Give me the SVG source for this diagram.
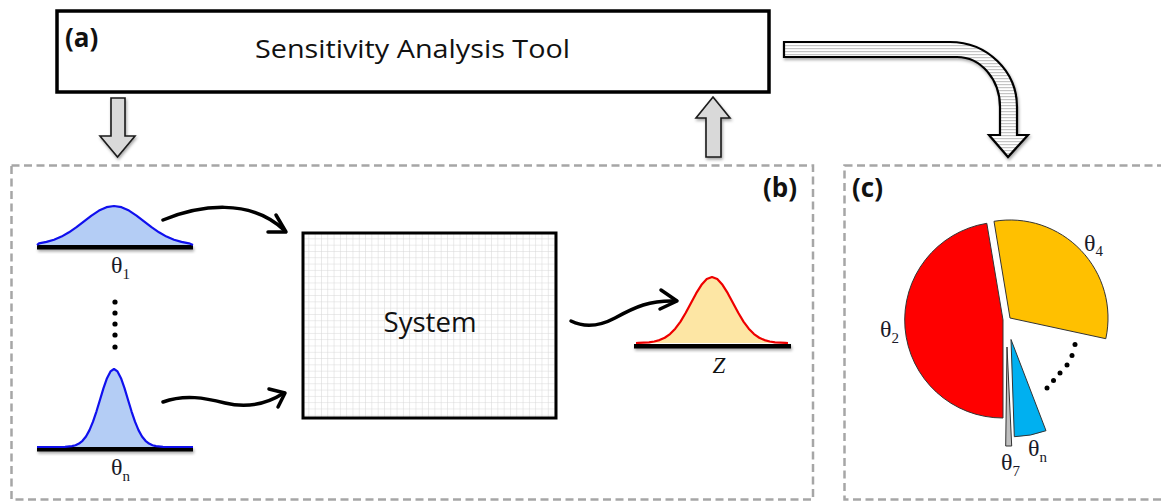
<svg xmlns="http://www.w3.org/2000/svg" width="1161" height="502" viewBox="0 0 1161 502">
<style>
.sans{font-family:"Open Sans","Liberation Sans",sans-serif;fill:#111}
.lbl{font-family:"Open Sans","Liberation Sans",sans-serif;font-weight:700;font-size:26px;fill:#111}
.th{font-family:"Liberation Serif","DejaVu Serif",serif;font-size:24px;fill:#1a1a2a}
.sub{font-size:15px}
.panel{fill:none;stroke:#a6a6a6;stroke-width:2.5;stroke-dasharray:8 4.5}
.block{fill:#d9d9d9;stroke:#1a1a1a;stroke-width:1.6;stroke-linejoin:miter}
.base{fill:#000}
.flow{fill:none;stroke:#000;stroke-width:3.5;stroke-linecap:round;stroke-linejoin:round}
.gb{fill:#b4cdf5;stroke:#1010ee;stroke-width:2.2;stroke-linejoin:round}
.gr{fill:#fde6a4;stroke:#ee0000;stroke-width:2.2;stroke-linejoin:round}
.slice{stroke:#333;stroke-width:1}
</style>
<defs>
<filter id="sh" x="-20%" y="-50%" width="150%" height="250%">
<feDropShadow dx="1" dy="2" stdDeviation="1.5" flood-color="#000" flood-opacity="0.35"/>
</filter>
<pattern id="grid" width="6.3" height="6.3" patternUnits="userSpaceOnUse" x="303" y="233">
<rect width="6.3" height="6.3" fill="#fff"/>
<path d="M6.3,0V6.3M0,6.3H6.3" stroke="#d6d6d6" stroke-width="1" fill="none"/>
</pattern>
<pattern id="stripes" width="4" height="3" patternUnits="userSpaceOnUse">
<rect width="4" height="3" fill="#fff"/>
<rect y="0" width="4" height="1.2" fill="#c4c4c4"/>
</pattern>
</defs>

<g id="panel-b"><rect class="panel" x="11.5" y="165.5" width="801.5" height="334"/>
<text class="lbl" x="763" y="197">(b)</text></g>
<g id="panel-c"><rect class="panel" x="844.5" y="165.5" width="360" height="334"/>
<text class="lbl" x="852" y="197">(c)</text></g>

<g id="sa-tool">
<rect x="57" y="11" width="712" height="81" fill="#fff" stroke="#000" stroke-width="3.5"/>
<text class="lbl" x="65" y="47">(a)</text>
<text class="sans" x="412.5" y="58" font-size="26" text-anchor="middle" textLength="315" lengthAdjust="spacingAndGlyphs">Sensitivity Analysis Tool</text>
</g>

<g id="input-1">
<rect class="base" x="37" y="245" width="156" height="4.5" filter="url(#sh)"/>
<path class="gb" d="M37,245 L39,243.3 46.5,241.9 54,239.7 61.5,236.6 69,232.3 76.5,227.2 84,221.4 91.5,215.6 99,210.6 106.5,207.2 114,206 121.5,207.2 129,210.6 136.5,215.6 144,221.4 151.5,227.2 159,232.3 166.5,236.6 174,239.7 181.5,241.9 189,243.3 193,245"/>
<text class="th" x="111" y="273">θ<tspan class="sub" dy="6">1</tspan></text>
</g>

<g id="ellipsis-inputs" fill="#000">
<circle cx="115" cy="302" r="2.6"/><circle cx="115" cy="313" r="2.6"/><circle cx="115" cy="324" r="2.6"/><circle cx="115" cy="335" r="2.6"/><circle cx="115" cy="347" r="2.6"/>
</g>

<g id="input-n">
<rect class="base" x="37" y="447" width="156" height="4.5" filter="url(#sh)"/>
<path class="gb" d="M37,447 L65,446.8 72,446.1 75.5,445.2 79,443.6 82.5,440.8 86,436.45 89.5,430.1 93,421.7 96.5,411.3 100,399.7 103.5,388.1 107,378.2 110.5,371.4 114,369 117.5,371.4 121,378.2 124.5,388.1 128,399.7 131.5,411.3 135,421.7 138.5,430.1 142,436.45 145.5,440.8 149,443.6 152.5,445.2 156,446.1 163,446.8 193,447"/>
<text class="th" x="111" y="475">θ<tspan class="sub" dy="6">n</tspan></text>
</g>

<g id="system">
<rect x="303" y="233" width="253" height="185" fill="url(#grid)" stroke="#000" stroke-width="3"/>
<text class="sans" x="430" y="332" font-size="27" text-anchor="middle" textLength="93" lengthAdjust="spacingAndGlyphs">System</text>
</g>

<g id="output-z">
<rect class="base" x="634" y="344" width="157" height="4.5" filter="url(#sh)"/>
<path class="gr" d="M636,343 L638.5,342.85 649,342.3 654.25,341.5 659.5,340.1 664.75,337.75 670,334.1 675.25,328.7 680.5,321.6 685.75,312.8 691,303 696.25,293.2 701.5,284.8 706.75,279 712,277 717.25,279 722.5,284.8 727.75,293.2 733,303 738.25,312.8 743.5,321.6 748.75,328.7 754,334.1 759.25,337.75 764.5,340.1 769.75,341.5 775,342.3 785.5,342.85 788,343"/>
<text x="719" y="373" font-family="Liberation Serif, serif" font-style="italic" font-size="23" fill="#111" text-anchor="middle">Z</text>
</g>

<g id="pie">
<path class="slice" fill="#ff0000" d="M1003,320 L1003,418 A98,98 0 0 1 986.8,223.3 Z"/>
<path class="slice" fill="#ffc000" d="M1010,318 L994,221.3 A98,98 0 0 1 1105.8,338.7 Z"/>
<path class="slice" fill="#00b0f0" d="M1011,339.5 L1046,430.7 A97,97 0 0 1 1014.3,436.7 Z"/>
<path class="slice" fill="#bfbfbf" d="M1007,347 L1011.7,446 L1005.7,446 Z"/>
<g fill="#000">
<circle cx="1047" cy="388" r="2.5"/><circle cx="1053.5" cy="380.5" r="2.5"/><circle cx="1060" cy="373" r="2.5"/><circle cx="1067" cy="365" r="2.5"/><circle cx="1072" cy="355.5" r="2.5"/><circle cx="1075" cy="344.5" r="2.5"/>
</g>
<text class="th" x="1084" y="251">θ<tspan class="sub" dy="5">4</tspan></text>
<text class="th" x="880" y="337">θ<tspan class="sub" dy="6">2</tspan></text>
<text class="th" x="1001" y="470">θ<tspan class="sub" dy="6">7</tspan></text>
<text class="th" x="1028" y="456">θ<tspan class="sub" dy="6">n</tspan></text>
</g>

<g id="connectors">
<path class="block" filter="url(#sh)" d="M111,98 H125 V136 H135 L117.5,157 L100,136 H111 Z"/>
<path class="block" filter="url(#sh)" d="M713,97 L730,118 H721 V157 H706 V118 H696 Z"/>
<path fill="url(#stripes)" stroke="#000" stroke-width="2.2" stroke-linejoin="miter" filter="url(#sh)" d="M784,42 L950,42 A67,65 0 0 1 1017,107 L1017,135 L1028,135 L1008,157 L989,135 L1000,135 L1000,107 A43,50 0 0 0 957,57 L784,57 Z"/>
<path class="flow" d="M163,220 C200,205 250,198 284,230"/>
<path class="flow" d="M276,215 L286,232 L268,232"/>
<path class="flow" d="M163,402 C185,394 205,398 225,403 C245,408 265,405 284,393"/>
<path class="flow" d="M269,389 L285,393 L278,407"/>
<path class="flow" d="M571,321 C585,328 600,326 615,318 C635,307 650,300 676,301"/>
<path class="flow" d="M661,290 L677,301 L660,309"/>
</g>
</svg>
